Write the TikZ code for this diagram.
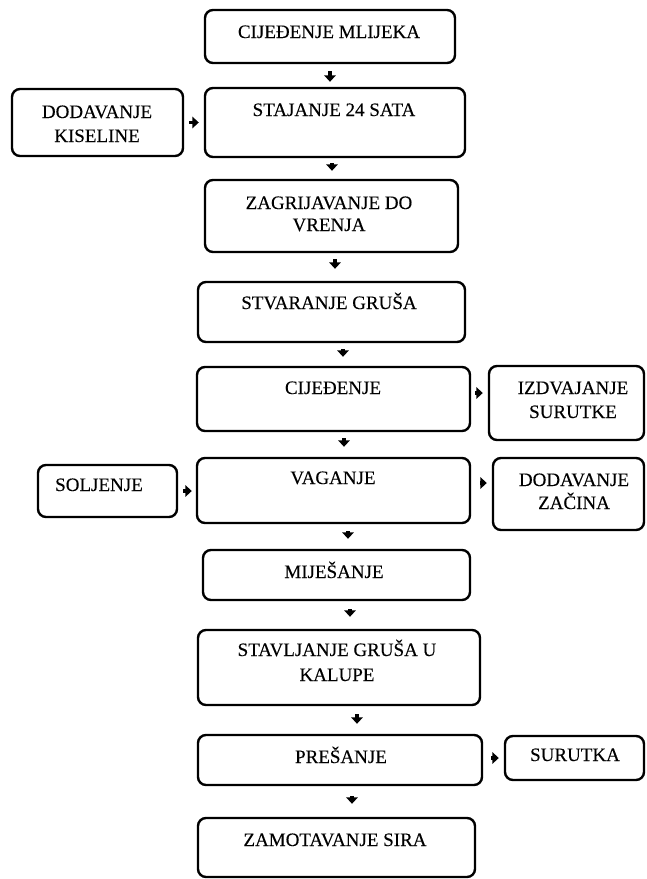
\documentclass[tikz,border=0pt]{standalone}
\usepackage{fontspec}
\setmainfont{Liberation Serif}[FakeBold=0.2]
\usetikzlibrary{arrows.meta}
\begin{document}
\begin{tikzpicture}[x=1pt,y=-1pt,
  stepbox/.style={draw, line width=2.4pt, rounded corners=8pt, inner sep=0pt},
  label/.style={inner sep=0pt, anchor=base, align=center,
    font=\fontsize{19}{23.5}\selectfont},
  arr/.style={line width=3.6pt, -{Triangle[width=11.5pt,length=6.5pt]}}]
\useasboundingbox (0,0) rectangle (646,879);
% box from corner (x1,y1) to (x2,y2)
\newcommand\bx[5]{\node[stepbox, minimum width=#4-#2, minimum height=#5-#3]
  (#1) at ({(#2+#4)/2},{(#3+#5)/2}) {};}
% main column
\bx{b1}{205}{10}{455}{63}
\bx{b2}{205}{88}{465}{157}
\bx{b3}{205}{180}{458}{252}
\bx{b4}{198}{282}{465}{342}
\bx{b5}{197}{367}{470}{431}
\bx{b6}{197}{458}{470}{523}
\bx{b7}{203}{550}{470}{600}
\bx{b8}{198}{630}{480}{705}
\bx{b9}{198}{735}{482}{785}
\bx{b10}{198}{818}{475}{877}
% side boxes
\bx{kis}{12}{89}{183}{156}
\bx{izd}{489}{366}{644}{440}
\bx{sol}{38}{465}{177}{517}
\bx{zac}{493}{458}{644}{530}
\bx{sur}{505}{736}{644}{780}
% texts (multi-line ones are placed by the baseline of their last line)
\node[label] (t1) at (329,38) {CIJEĐENJE MLIJEKA};
\node[label] (t2) at (334,116) {STAJANJE 24 SATA};
\node[label, font=\fontsize{19}{22}\selectfont] (t3) at (329,231) {ZAGRIJAVANJE DO\\VRENJA};
\node[label] (t4) at (329,309) {STVARANJE GRUŠA};
\node[label] (t5) at (333,394) {CIJEĐENJE};
\node[label] (t6) at (333,484) {VAGANJE};
\node[label] (t7) at (334,578) {MIJEŠANJE};
\node[label, font=\fontsize{19}{25}\selectfont] (t8) at (337,681) {STAVLJANJE GRUŠA U\\KALUPE};
\node[label] (t9) at (341,763) {PREŠANJE};
\node[label] (t10) at (335,846) {ZAMOTAVANJE SIRA};
\node[label, font=\fontsize{19}{24}\selectfont] (tk) at (97,142) {DODAVANJE\\KISELINE};
\node[label, font=\fontsize{19}{24}\selectfont] (ti) at (573,418) {IZDVAJANJE\\SURUTKE};
\node[label] (ts) at (99,491) {SOLJENJE};
\node[label, font=\fontsize{19}{23}\selectfont] (tz) at (574,509) {DODAVANJE\\ZAČINA};
\node[label] (tu) at (575,761) {SURUTKA};
% vertical connectors
\draw[arr, shorten <=7pt, shorten >=5pt] (b1.south) -- (b1.south |- b2.north);
\draw[arr, shorten <=5pt, shorten >=8pt] ([xshift=-3pt]b2.south) -- ([xshift=-3pt]b2.south |- b3.north);
\draw[arr, shorten <=6pt, shorten >=12pt] ([xshift=3.5pt]b3.south) -- ([xshift=3.5pt]b3.south |- b4.north);
\draw[arr, shorten <=6pt, shorten >=9pt] ([xshift=11.5pt]b4.south) -- ([xshift=11.5pt]b4.south |- b5.north);
\draw[arr, shorten <=6pt, shorten >=10pt] ([xshift=10.5pt]b5.south) -- ([xshift=10.5pt]b5.south |- b6.north);
\draw[arr, shorten <=7pt, shorten >=10pt] ([xshift=14.5pt]b6.south) -- ([xshift=14.5pt]b6.south |- b7.north);
\draw[arr, shorten <=8pt, shorten >=12pt] ([xshift=13.5pt]b7.south) -- ([xshift=13.5pt]b7.south |- b8.north);
\draw[arr, shorten <=8pt, shorten >=10pt] ([xshift=18pt]b8.south) -- ([xshift=18pt]b8.south |- b9.north);
\draw[arr, shorten <=10pt, shorten >=13pt] ([xshift=12pt]b9.south) -- ([xshift=12pt]b9.south |- b10.north);
% side connectors
\draw[arr, shorten <=5pt, shorten >=5pt] (kis.east) -- (kis.east -| b2.west);
\draw[arr, shorten <=4pt, shorten >=5pt] ([yshift=6pt]b5.east) -- ([yshift=6pt]b5.east -| izd.west);
\draw[arr, shorten <=5pt, shorten >=4pt] (sol.east) -- (sol.east -| b6.west);
\draw[arr, shorten <=9pt, shorten >=5pt] ([yshift=7.5pt]b6.east) -- ([yshift=7.5pt]b6.east -| zac.west);
\draw[arr, shorten <=8pt, shorten >=5pt] ([yshift=2pt]b9.east) -- ([yshift=2pt]b9.east -| sur.west);
\end{tikzpicture}
\end{document}
